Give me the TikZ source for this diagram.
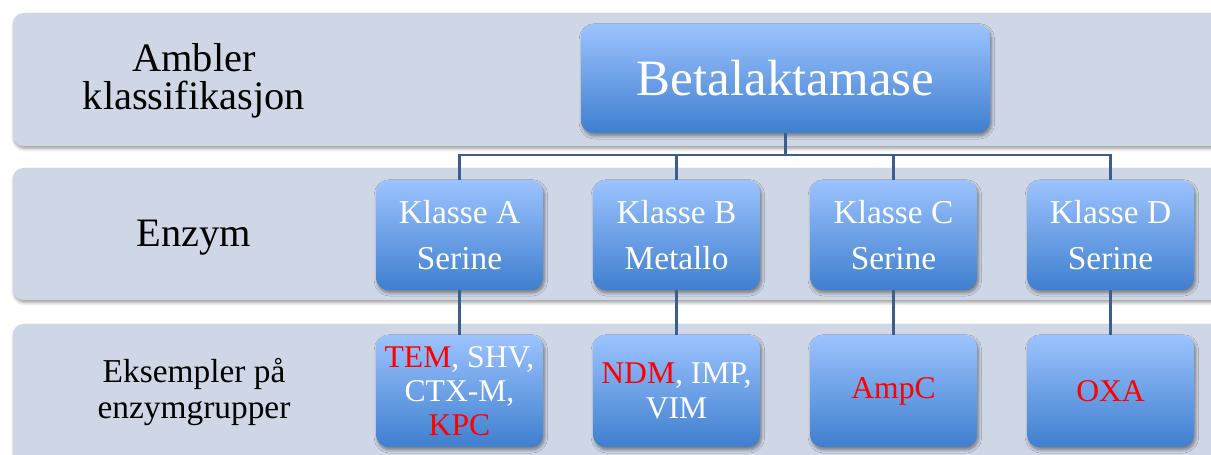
\documentclass[tikz,border=0pt]{standalone}
\usepackage{fontspec}
\setmainfont{Liberation Serif}
\usepackage{tikz}
\usetikzlibrary{shadows,shadows.blur}
\definecolor{bandfill}{RGB}{207,215,230}
\definecolor{boxtop}{RGB}{156,195,254}
\definecolor{boxbottom}{RGB}{63,127,207}
\definecolor{linkblue}{RGB}{58,94,142}
\definecolor{exred}{RGB}{255,0,0}

\begin{document}
\begin{tikzpicture}[
    x=0.02cm,
    y=-0.02cm,
    band/.style={
        fill=bandfill,
        rounded corners=6pt,
        blur shadow={shadow xshift=0.6pt, shadow yshift=-1.4pt, shadow blur steps=6, shadow opacity=40}
    },
    bluebox/.style={
        rounded corners=7pt,
        top color=boxtop,
        bottom color=boxbottom,
        text=white,
        align=center,
        inner sep=0pt,
        blur shadow={shadow xshift=0.8pt, shadow yshift=-1.6pt, shadow blur steps=6, shadow opacity=45}
    },
    topbox/.style={
        bluebox,
        minimum width=8.18cm,
        minimum height=2.18cm,
        font=\fontsize{29}{30}\selectfont
    },
    classbox/.style={
        bluebox,
        minimum width=3.34cm,
        minimum height=2.2cm,
        font=\fontsize{19}{26}\selectfont
    },
    exbox/.style={
        bluebox,
        minimum width=3.34cm,
        minimum height=2.24cm,
        font=\fontsize{18}{19.5}\selectfont
    },
    rowlabel/.style={
        align=center,
        font=\fontsize{23}{21.5}\selectfont
    },
    link/.style={
        draw=linkblue,
        line width=1.4pt
    }
]

\clip (0,0) rectangle (1211,455);

\path[band] (13,13) rectangle (1235,146);
\path[band] (13,168) rectangle (1235,300);
\path[band] (13,324) rectangle (1235,475);

\node[rowlabel] (ambler) at (194,81) {Ambler\\klassifikasjon};
\node[rowlabel] (enzym) at (194,238) {Enzym};
\node[rowlabel, font=\fontsize{19}{20}\selectfont] (eksempler) at (194,392) {Eksempler på\\enzymgrupper};

\node[topbox] (beta) at (785.5,78.5) {Betalaktamase};

\node[classbox] (kA) at (459.5,235) {Klasse A\\Serine};
\node[classbox] (kB) at (676.5,235) {Klasse B\\Metallo};
\node[classbox] (kC) at (893.5,235) {Klasse C\\Serine};
\node[classbox] (kD) at (1110.5,235) {Klasse D\\Serine};

\node[exbox] (exA) at (459.5,391) {\textcolor{exred}{TEM}, SHV,\\CTX-M,\\\textcolor{exred}{KPC}};
\node[exbox] (exB) at (676.5,391) {\textcolor{exred}{NDM}, IMP,\\VIM};
\node[exbox] (exC) at (893.5,391) {\textcolor{exred}{AmpC}};
\node[exbox] (exD) at (1110.5,391) {\textcolor{exred}{OXA}};

\coordinate (split) at (785.5,155);
\draw[link] (beta) -- (split);
\foreach \k in {kA,kB,kC,kD}
    \draw[link] (split) -| (\k);
\foreach \k/\e in {kA/exA,kB/exB,kC/exC,kD/exD}
    \draw[link] (\k) -- (\e);

\end{tikzpicture}
\end{document}
